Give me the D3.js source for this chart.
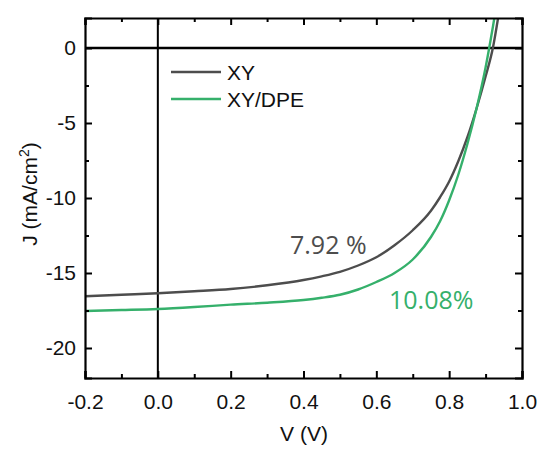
<!DOCTYPE html>
<html>
<head>
<meta charset="utf-8">
<script src="https://cdn.jsdelivr.net/npm/d3@7"></script>
<style>
  body { margin: 0; background: #fff; }
  svg { display: block; }
  .axis text { font-family: "Liberation Sans", Arial, sans-serif; font-size: 21px; fill: #111; }
  .axis path, .axis line { stroke: #000; }
</style>
</head>
<body>
<svg id="chart" width="544" height="450"></svg>
<script>
// J–V curves of the two devices (V in volts, J in mA/cm²)
const voltage = [-0.2, -0.1, 0.0, 0.1, 0.2, 0.3, 0.4, 0.45, 0.5, 0.55, 0.6, 0.65, 0.7, 0.75, 0.775, 0.8, 0.825, 0.85, 0.875, 0.9, 0.92, 0.935];
const jXY     = [-16.55, -16.45, -16.35, -16.22, -16.07, -15.82, -15.47, -15.22, -14.92, -14.5, -13.95, -13.15, -12.15, -10.85, -9.95, -8.9, -7.55, -5.95, -4.05, -1.9, 0.0, 2.1];
const jXYDPE  = [-17.53, -17.47, -17.40, -17.27, -17.11, -16.98, -16.8, -16.65, -16.45, -16.1, -15.6, -15.0, -14.1, -12.6, -11.55, -10.15, -8.45, -6.4, -4.05, -1.3, 1.4, 3.6];
const seriesNames = ["XY", "XY/DPE"];
const pceLabels = ["7.92 %", "10.08%"];
const xTicks = [-0.2, 0.0, 0.2, 0.4, 0.6, 0.8, 1.0];
const xMinorTicks = [-0.1, 0.1, 0.3, 0.5, 0.7, 0.9];
const yTicks = [0, -5, -10, -15, -20];
const yMinorTicks = [-2.5, -7.5, -12.5, -17.5];

const colors = ["#4d4d4d", "#35b06b"];

const svg = d3.select("#chart");
const L = 85, R = 522, T = 18, B = 378;

const x = d3.scaleLinear().domain([-0.2, 1.0]).range([L, R]);
const y = d3.scaleLinear().domain([-22, 2]).range([B, T]);

svg.append("defs").append("clipPath").attr("id", "plotClip")
  .append("rect").attr("x", L).attr("y", T).attr("width", R - L).attr("height", B - T);

// zero reference lines
svg.append("line").attr("x1", x(0)).attr("x2", x(0)).attr("y1", T).attr("y2", B)
  .attr("stroke", "#000").attr("stroke-width", 2);
svg.append("line").attr("x1", L).attr("x2", R).attr("y1", y(0)).attr("y2", y(0))
  .attr("stroke", "#000").attr("stroke-width", 2.4);

// curves
const series = [jXY, jXYDPE];
const line = d3.line()
  .x(d => x(d[0])).y(d => y(d[1]))
  .curve(d3.curveMonotoneX);
series.forEach((vals, i) => {
  svg.append("path")
    .datum(voltage.map((v, k) => [v, vals[k]]))
    .attr("clip-path", "url(#plotClip)")
    .attr("fill", "none")
    .attr("stroke", colors[i])
    .attr("stroke-width", 2.4)
    .attr("d", line);
});

// axes with inward ticks, mirrored on all four sides
function addAxis(gen, transform, ticks, size, labels) {
  const g = svg.append("g").attr("class", "axis").attr("transform", transform)
    .call(gen.tickValues(ticks).tickSize(size).tickPadding(9)
      .tickFormat(labels ? labels : () => ""));
  g.selectAll("line").attr("stroke-width", 2);
  g.select(".domain").attr("stroke-width", 2.2);
  return g;
}
const fmtX = d => d.toFixed(1);
const fmtY = d => String(d);

addAxis(d3.axisBottom(x), `translate(0,${B})`, xTicks, -7, fmtX)
  .selectAll("text").attr("dy", "1.05em");
addAxis(d3.axisBottom(x), `translate(0,${B})`, xMinorTicks, -4, null).select(".domain").remove();
addAxis(d3.axisTop(x), `translate(0,${T})`, xTicks, -7, null);
addAxis(d3.axisTop(x), `translate(0,${T})`, xMinorTicks, -4, null).select(".domain").remove();

addAxis(d3.axisLeft(y), `translate(${L},0)`, yTicks, -7, fmtY);
addAxis(d3.axisLeft(y), `translate(${L},0)`, yMinorTicks, -4, null).select(".domain").remove();
addAxis(d3.axisRight(y), `translate(${R},0)`, yTicks, -7, null);
addAxis(d3.axisRight(y), `translate(${R},0)`, yMinorTicks, -4, null).select(".domain").remove();

// axis titles
svg.append("text")
  .attr("x", (L + R) / 2 + 0.5).attr("y", 441)
  .attr("text-anchor", "middle")
  .style("font-family", "'Liberation Sans', Arial, sans-serif")
  .style("font-size", "21px").attr("fill", "#111")
  .text("V (V)");

const yTitle = svg.append("text")
  .attr("transform", "translate(37,194) rotate(-90)")
  .attr("text-anchor", "middle")
  .style("font-family", "'Liberation Sans', Arial, sans-serif")
  .style("font-size", "21px").attr("fill", "#111");
yTitle.append("tspan").text("J (mA/cm");
yTitle.append("tspan").attr("dy", -8).style("font-size", "14px").text("2");
yTitle.append("tspan").attr("dy", 8).text(")");

// legend
seriesNames.forEach((name, i) => {
  const ly = 72 + i * 27;
  svg.append("line").attr("x1", 171).attr("x2", 221).attr("y1", ly).attr("y2", ly)
    .attr("stroke", colors[i]).attr("stroke-width", 2.6);
  svg.append("text").attr("x", 227).attr("y", ly + 7.5)
    .style("font-family", "'Liberation Sans', Arial, sans-serif")
    .style("font-size", "21px").attr("fill", "#111")
    .text(name);
});

// power conversion efficiency labels
const pcePos = [[290, 254], [389, 309]];
pceLabels.forEach((t, i) => {
  svg.append("text").attr("x", pcePos[i][0]).attr("y", pcePos[i][1])
    .style("font-family", "'Open Sans', 'Noto Sans', sans-serif")
    .style("font-size", "25px").attr("fill", colors[i])
    .text(t);
});
</script>
</body>
</html>
